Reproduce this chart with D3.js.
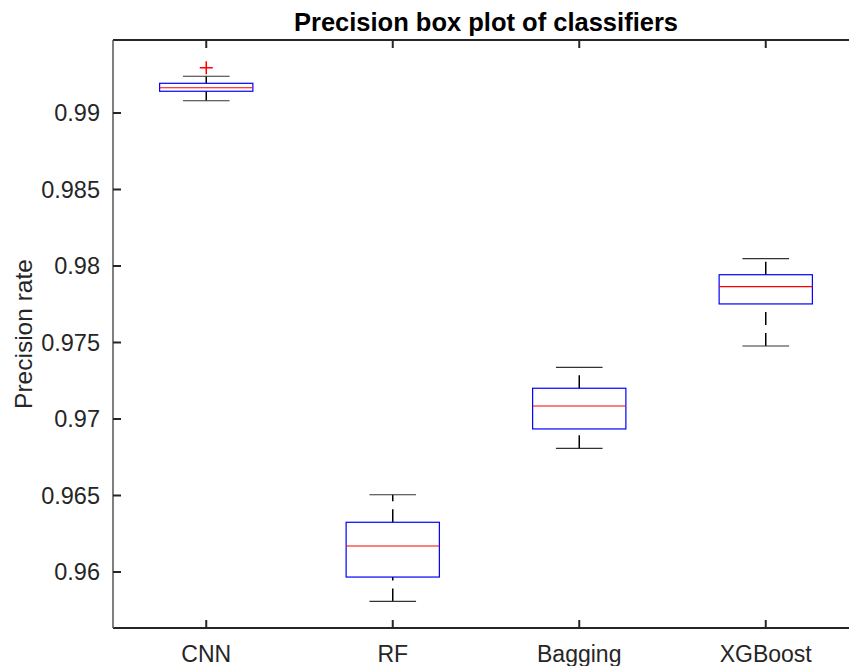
<!DOCTYPE html>
<html><head><meta charset="utf-8">
<script src="https://cdn.jsdelivr.net/npm/d3@7"></script>
<style>body{margin:0;background:#fff;} svg{display:block;}</style>
</head><body>
<svg id="chart" width="849" height="666"></svg>
<script>
const categories = ["CNN", "RF", "Bagging", "XGBoost"];
const lowerWhisker = [0.99080, 0.95808, 0.96808, 0.97477];
const q1Values     = [0.99142, 0.95967, 0.96935, 0.97752];
const medianValues = [0.99165, 0.96170, 0.97085, 0.97865];
const q3Values     = [0.99194, 0.96325, 0.97201, 0.97943];
const upperWhisker = [0.99240, 0.96505, 0.97338, 0.98048];
const outliers     = [[0.99296], [], [], []];
const yTicks = [0.96, 0.965, 0.97, 0.975, 0.98, 0.985, 0.99];
const yTickLabels = ["0.96", "0.965", "0.97", "0.975", "0.98", "0.985", "0.99"];

const svg = d3.select("#chart");
const L = 113, R = 859, T = 40, B = 628;
const x = d3.scaleLinear().domain([0.5, 4.5]).range([L, R]);
const y = d3.scaleLinear().domain([0.95634, 0.99477]).range([B, T]);
const font = "'Liberation Sans', Arial, Helvetica, sans-serif";
const axisCol = "#262626";

// frame
svg.append("line").attr("x1", L).attr("x2", R).attr("y1", B).attr("y2", B).attr("stroke", axisCol).attr("stroke-width", 2);
svg.append("line").attr("x1", L).attr("x2", R).attr("y1", T).attr("y2", T).attr("stroke", axisCol).attr("stroke-width", 2);
svg.append("line").attr("x1", L).attr("x2", L).attr("y1", T).attr("y2", B).attr("stroke", "#555").attr("stroke-width", 1.5);

// x ticks (bottom & top, inward)
const xi = categories.map((c, i) => i + 1);
xi.forEach((v, i) => {
  svg.append("line").attr("x1", x(v)).attr("x2", x(v)).attr("y1", B).attr("y2", B - 8).attr("stroke", axisCol).attr("stroke-width", 2);
  svg.append("line").attr("x1", x(v)).attr("x2", x(v)).attr("y1", T).attr("y2", T + 8).attr("stroke", axisCol).attr("stroke-width", 2);
  svg.append("text").attr("x", x(v)).attr("y", 662).attr("text-anchor", "middle")
    .attr("font-family", font).attr("font-size", 23).attr("fill", axisCol).text(categories[i]);
});
// y ticks
yTicks.forEach((v, i) => {
  svg.append("line").attr("x1", L).attr("x2", L + 8).attr("y1", y(v)).attr("y2", y(v)).attr("stroke", axisCol).attr("stroke-width", 2);
  svg.append("text").attr("x", 100).attr("y", y(v)).attr("dy", "0.36em").attr("text-anchor", "end")
    .attr("font-family", font).attr("font-size", 23.5).attr("fill", axisCol).text(yTickLabels[i]);
});

// boxes
const bw = 0.25, cw = 0.125;
xi.forEach((v, i) => {
  const g = svg.append("g");
  g.append("line").attr("x1", x(v)).attr("x2", x(v)).attr("y1", y(q3Values[i])).attr("y2", y(upperWhisker[i]))
    .attr("stroke", "#000").attr("stroke-width", 1.5).attr("stroke-dasharray", "13,8");
  g.append("line").attr("x1", x(v)).attr("x2", x(v)).attr("y1", y(lowerWhisker[i])).attr("y2", y(q1Values[i]))
    .attr("stroke", "#000").attr("stroke-width", 1.5).attr("stroke-dasharray", "13,8");
  [lowerWhisker[i], upperWhisker[i]].forEach(w => {
    g.append("line").attr("x1", x(v - cw)).attr("x2", x(v + cw)).attr("y1", y(w)).attr("y2", y(w))
      .attr("stroke", "#333").attr("stroke-width", 1.2);
  });
  g.append("rect").attr("x", x(v - bw)).attr("width", x(v + bw) - x(v - bw))
    .attr("y", y(q3Values[i])).attr("height", y(q1Values[i]) - y(q3Values[i]))
    .attr("fill", "none").attr("stroke", "#0000ff").attr("stroke-width", 1.2);
  g.append("line").attr("x1", x(v - bw)).attr("x2", x(v + bw)).attr("y1", y(medianValues[i])).attr("y2", y(medianValues[i]))
    .attr("stroke", "#ff0000").attr("stroke-width", 1.2);
  outliers[i].forEach(o => {
    const px = x(v), py = y(o), s = 6.5;
    g.append("path").attr("d", `M${px - s},${py}H${px + s}M${px},${py - s}V${py + s}`)
      .attr("stroke", "#ff0000").attr("stroke-width", 1.5).attr("fill", "none");
  });
});

// title and label
svg.append("text").attr("x", (L + R) / 2).attr("y", 31).attr("text-anchor", "middle")
  .attr("font-family", font).attr("font-weight", "bold").attr("font-size", 25.5).attr("fill", "#000")
  .text("Precision box plot of classifiers");
svg.append("text").attr("transform", `translate(32,${(T + B) / 2}) rotate(-90)`).attr("text-anchor", "middle")
  .attr("font-family", font).attr("font-size", 24.5).attr("fill", axisCol).text("Precision rate");
</script>
</body></html>
